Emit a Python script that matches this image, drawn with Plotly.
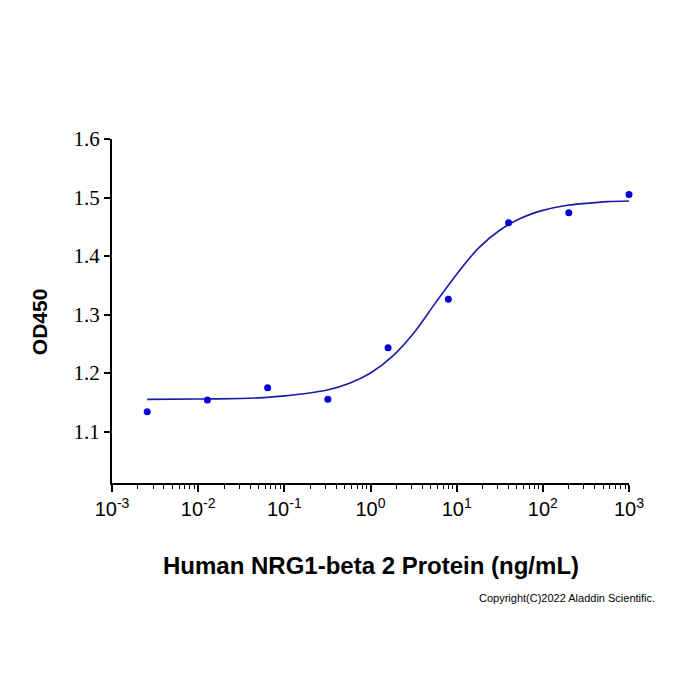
import plotly.graph_objects as go

# Measured points
conc = [1000, 200, 40, 8, 1.6, 0.32, 0.064, 0.0128, 0.00256]
od450 = [1.505, 1.474, 1.457, 1.326, 1.243, 1.155, 1.175, 1.154, 1.134]

# Fitted curve
curve_x = [0.00256, 0.01, 0.0316, 0.0562, 0.1, 0.178, 0.316, 0.562, 1.0, 1.78, 3.16,
           5.62, 10.0, 17.8, 31.6, 56.2, 100.0, 178.0, 316.0, 562.0, 1000.0]
curve_y = [1.155, 1.1555, 1.1565, 1.158, 1.161, 1.165, 1.171, 1.182, 1.200, 1.228, 1.268,
           1.319, 1.369, 1.413, 1.444, 1.465, 1.478, 1.486, 1.490, 1.493, 1.494]

x_tickvals = [0.001, 0.01, 0.1, 1, 10, 100, 1000]
x_ticktext = ["10<sup>-3</sup>", "10<sup>-2</sup>", "10<sup>-1</sup>", "10<sup>0</sup>",
              "10<sup>1</sup>", "10<sup>2</sup>", "10<sup>3</sup>"]
y_tickvals = [1.1, 1.2, 1.3, 1.4, 1.5, 1.6]
y_ticktext = ["1.1", "1.2", "1.3", "1.4", "1.5", "1.6"]

fig = go.Figure()
fig.add_trace(go.Scatter(x=curve_x, y=curve_y, mode="lines",
                         line=dict(color="#1a1aa8", width=1.6, shape="spline", smoothing=0.8),
                         hoverinfo="skip", showlegend=False, cliponaxis=False))
fig.add_trace(go.Scatter(x=conc, y=od450, mode="markers",
                         marker=dict(color="#0000dd", size=7),
                         showlegend=False, cliponaxis=False))

fig.update_layout(
    width=700, height=700,
    margin=dict(l=112, r=71, t=139, b=217),
    paper_bgcolor="white", plot_bgcolor="white",
    xaxis=dict(type="log", range=[-3, 3], showgrid=False, zeroline=False,
               showline=True, linecolor="black", linewidth=2,
               ticks="outside", ticklen=7, tickwidth=1.5, tickcolor="black",
               tickvals=x_tickvals, ticktext=x_ticktext,
               tickfont=dict(family="Liberation Sans, Arial", size=20, color="black"),
               minor=dict(ticks="outside", ticklen=4, tickwidth=1, tickcolor="black", dtick="D1", showgrid=False)),
    yaxis=dict(range=[1.012, 1.6], showgrid=False, zeroline=False,
               showline=True, linecolor="black", linewidth=2,
               ticks="outside", ticklen=6, tickwidth=1.5, tickcolor="black",
               tickvals=y_tickvals, ticktext=y_ticktext,
               tickfont=dict(family="Times New Roman, Liberation Serif, serif", size=21, color="black")),
    annotations=[
        dict(text="<b>Human NRG1-beta 2 Protein (ng/mL)</b>", xref="paper", yref="paper",
             x=(372 - 112) / 518, y=-(565 - 483) / 344, xanchor="center", yanchor="middle",
             showarrow=False, font=dict(family="Liberation Sans, Arial", size=24, color="black")),
        dict(text="<b>OD450</b>", xref="paper", yref="paper", textangle=-90,
             x=(39 - 112) / 518, y=(483 - 322) / 344, xanchor="center", yanchor="middle",
             showarrow=False, font=dict(family="Liberation Sans, Arial", size=21, color="black")),
        dict(text="Copyright(C)2022 Aladdin Scientific.", xref="paper", yref="paper",
             x=(658 - 112) / 518, y=-(598 - 483) / 344, xanchor="right", yanchor="middle",
             showarrow=False, font=dict(family="Liberation Sans, Arial", size=11, color="black")),
    ],
)

fig.write_html("out.html")
